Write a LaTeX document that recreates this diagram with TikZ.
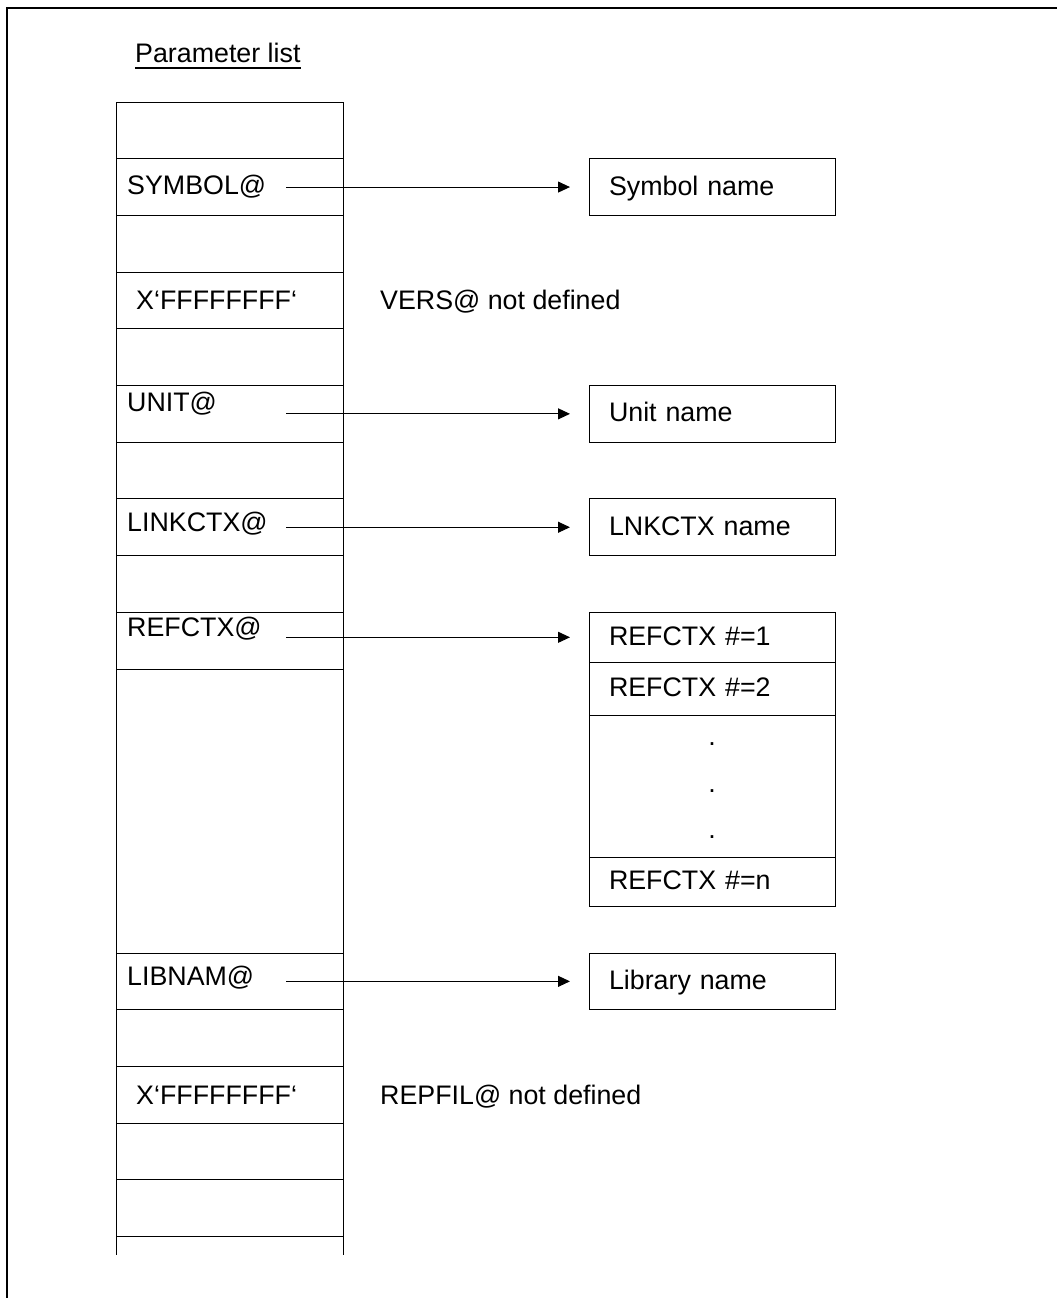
\documentclass[tikz,border=0pt]{standalone}
\usepackage{fontspec}
\setmainfont{Liberation Sans}
\usetikzlibrary{positioning, arrows.meta}

\newcommand{\figfont}{\fontsize{26.8pt}{31pt}\selectfont}

\begin{document}
\begin{tikzpicture}[x=1pt, y=-1pt,
	cell/.style={draw, line width=1pt, minimum width=227pt, minimum height=56.7pt, inner sep=0pt, outer sep=0pt},
	target/.style={draw, line width=1pt, minimum width=246pt, minimum height=56.7pt, text width=206pt,
		inner xsep=20pt, inner ysep=0pt, outer sep=0pt, text height=19pt, text depth=3pt, align=left, font=\figfont},
	lbl/.style={inner sep=0pt, anchor=base west, font=\figfont},
	ptr/.style={-{Triangle[length=12pt, width=11pt]}, line width=1pt, shorten >=19pt}]
					\useasboundingbox (0,0) rectangle (1057,1298);
					\draw[line width=1.3pt] (7,1298) -- (7,8) -- (1057,8);
					
					% title
					\node[lbl] (title) at (135,63) {Parameter list};
					\draw[line width=1.3pt] ([yshift=-5pt]title.base west) -- ([yshift=-5pt]title.base east);
					
					% the parameter list column
					\node[cell] (c0) at (229.5,130.35) {};
					\foreach \i [count=\j from 0] in {1,...,9}
						\node[cell, below=0pt of c\j] (c\i) {};
					\node[cell, minimum height=284pt, below=0pt of c9] (c10) {};
					\foreach \i [count=\j from 10] in {11,...,15}
						\node[cell, below=0pt of c\j] (c\i) {};
					\draw[line width=1pt] (c15.south west) -- ++(0,18.5) (c15.south east) -- ++(0,18.5);
					
					% entries
					\node[lbl] (sym) at ([xshift=11pt, yshift=-7pt]c1.west) {SYMBOL@};
					\node[lbl] (x1) at ([xshift=20pt, yshift=-8.6pt]c3.west) {X‘FFFFFFFF‘};
					\node[lbl] (unit) at ([xshift=11pt, yshift=2.2pt]c5.west) {UNIT@};
					\node[lbl] (lnk) at ([xshift=11pt, yshift=-4.7pt]c7.west) {LINKCTX@};
					\node[lbl] (ref) at ([xshift=11pt, yshift=3.7pt]c9.west) {REFCTX@};
					\node[lbl] (lib) at ([xshift=11pt, yshift=-3.7pt]c11.west) {LIBNAM@};
					\node[lbl] (x2) at ([xshift=20pt, yshift=-10.2pt]c13.west) {X‘FFFFFFFF‘};
					
					\node[lbl] (vers) at ([xshift=37pt]x1.base -| c3.east) {VERS@ not defined};
					\node[lbl] (repfil) at ([xshift=37pt]x2.base -| c13.east) {REPFIL@ not defined};
					
					% targets
					\node[target, right=246pt of c1] (t1) {Symbol name};
					\node[target, right=246pt of c5] (t2) {Unit name};
					\node[target, right=246pt of c7] (t3) {LNKCTX name};
					\node[target, minimum height=50pt, anchor=north west] (rx1) at ([xshift=246pt]c9.north east) {REFCTX \#=1};
					\node[target, minimum height=53pt, below=0pt of rx1] (rx2) {REFCTX \#=2};
					\node[target, minimum height=142pt, below=0pt of rx2] (rx3) {};
					\node[target, minimum height=49pt, below=0pt of rx3] (rx4) {REFCTX \#=n};
					\foreach \d/\k in {41/a, -6/b, -52/c}
						\node[inner sep=0pt, anchor=base, font=\figfont] (dot\k) at ([yshift=\d pt]rx3.center) {.};
					\node[target, right=246pt of c11] (t4) {Library name};
					
					% pointers
					\coordinate (from) at (286,0);
					\draw[ptr] (t1.west -| from) -- (t1.west);
					\draw[ptr] (t2.west -| from) -- (t2.west);
					\draw[ptr] (t3.west -| from) -- (t3.west);
					\draw[ptr] (rx1.west -| from) -- (rx1.west);
					\draw[ptr] (t4.west -| from) -- (t4.west);
				\end{tikzpicture}
\end{document}
